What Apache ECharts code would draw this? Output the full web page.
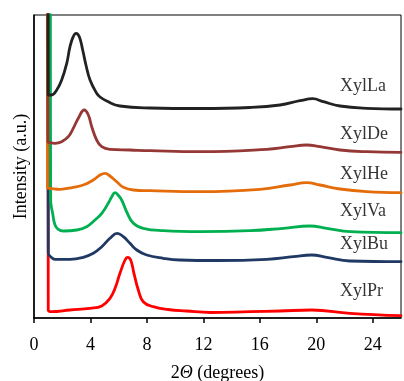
<!DOCTYPE html>
<html><head><meta charset="utf-8">
<script src="https://cdn.jsdelivr.net/npm/echarts@6/dist/echarts.min.js"></script>
<style>html,body{margin:0;padding:0;background:#fff}#c{width:404px;height:381px}</style>
</head><body><div id="c"></div>
<script>
const seriesNames = ['XylPr','XylBu','XylVa','XylHe','XylDe','XylLa'];
const colors = ['#ff0000','#1f3864','#00b050','#e46c0a','#953735','#222222'];
const xTicks = [0,4,8,12,16,20,24];

const xPr = [0.99,1.01,1.25,2.55,3.97,4.80,5.38,5.74,6.09,6.45,6.64,6.85,7.08,7.39,7.74,8.45,9.5,10.8,12.5,15.30,17.43,19.67,22.39,26];
const yPr = [500,8,6.3,8,9.7,12,19.7,29.7,44.7,58,60.7,58,44.7,28,16.3,11.3,8.5,7,5.5,6.3,7,8,4.7,2.3];

const xBu = [0.99,1.01,1.18,1.49,2.55,3.49,4.20,4.80,5.38,5.90,6.33,6.80,7.28,7.98,9.16,10.34,13.0,16.49,18.37,19.67,20.74,22.39,26];
const yBu = [500,65,61.3,58.7,58.7,60.7,64.7,71.3,79.7,84.7,81.3,74.7,68,63,59.7,58,57.5,58.7,61.3,63,60.7,57,56.3];

const xVa = [1.15,1.18,1.32,1.49,1.72,2.08,3.03,3.73,4.32,4.80,5.26,5.50,5.74,5.95,6.21,6.57,7.04,7.74,9.16,11.76,15.30,17.66,19.55,20.74,22.41,26];
const yVa = [500,118,104.7,93,88.7,87,88,91.3,98,104.7,114.7,121,125.3,123,118,106,94.7,89.7,87.3,86.3,87.3,89.7,92,89.7,86.3,85.3];

const xHe = [0.94,0.96,1.13,1.84,2.78,3.49,4.20,4.68,5.03,5.38,5.86,6.33,7.04,8.22,11.76,16.01,18.14,19.32,20.26,21.68,23.57,26];
const yHe = [500,130,129.7,128.7,130.7,133,138,143,144.7,142,136.3,130.7,128,127.3,126.3,128.7,133,135.3,133,129,126.3,125.3];

const xDe = [0.96,0.99,1.13,1.49,1.96,2.43,2.78,3.14,3.56,3.85,4.09,4.44,4.80,5.38,6.80,8.22,11.76,16.49,18.13,19.32,20.26,21.68,23.57,26];
const yDe = [500,176.3,175.3,174.7,176.3,181.3,189.7,199.7,208,203,191.3,178,171.3,168.7,168,167.3,166.3,168.7,171.3,173,171.3,168,166.3,165.7];

const xLa = [0.99,1.01,1.25,1.61,1.96,2.32,2.55,2.78,2.98,3.21,3.45,3.68,3.97,4.44,4.68,5.15,6.09,8.22,11.76,15.30,17.43,18.85,19.75,20.50,21.68,23.57,26];
const yLa = [500,223,223,228,238,254.7,271.3,281.3,284.7,281.3,268,253,238,224.7,221,217,212,210,209.5,210.5,213,217.3,219.3,216.3,212,209.7,209];

const labelX = [21.68,21.68,21.68,21.68,21.68,21.68];
const labelY = [27,74,107,144,184,232];

const xs = [xPr,xBu,xVa,xHe,xDe,xLa];
const ys = [yPr,yBu,yVa,yHe,yDe,yLa];
const FONT = 'Liberation Serif';
const FS = 18;

const series = seriesNames.map((n,i)=>({
  name:n, type:'line', showSymbol:false, smooth:0.45, clip:true,
  lineStyle:{color:colors[i], width:2.8, join:'round', cap:'round'}, itemStyle:{color:colors[i]},
  data: xs[i].map((x,j)=>[x, ys[i][j]])
}));
series.push({
  type:'scatter', symbolSize:0, silent:true,
  data: seriesNames.map((n,i)=>({name:n, value:[labelX[i], labelY[i]]})),
  label:{show:true, position:'right', distance:0, formatter:p=>p.name,
    fontFamily:FONT, fontSize:FS, color:'#000'}
});

const chart = echarts.init(document.getElementById('c'), null, {renderer:'canvas'});
chart.setOption({
  animation:false,
  backgroundColor:'#fff',
  grid:{left:34, right:3, top:15, bottom:63, containLabel:false, outerBoundsMode:'none',
    show:true, borderColor:'#000', borderWidth:1, backgroundColor:'transparent'},
  xAxis:{type:'value', min:0, max:26, interval:4,
    axisLine:{lineStyle:{color:'#000', width:1.5}},
    axisTick:{show:true, length:5, lineStyle:{color:'#000', width:1.5}},
    axisLabel:{fontFamily:FONT, fontSize:FS, color:'#000', margin:18, showMaxLabel:false,
      formatter:v=> xTicks.indexOf(v)>=0 ? String(v) : ''},
    splitLine:{show:false},
    name:'{n|2}{it|Θ}{n| (degrees)}', nameLocation:'middle', nameGap:46,
    nameTextStyle:{rich:{n:{fontFamily:FONT, fontSize:FS, color:'#000'}, it:{fontFamily:FONT, fontSize:FS, fontStyle:'italic', color:'#000'}}}
  },
  yAxis:{type:'value', min:0, max:303,
    axisLine:{show:true, lineStyle:{color:'#000', width:1.5}},
    axisTick:{show:false}, axisLabel:{show:false}, splitLine:{show:false},
    name:'Intensity (a.u.)', nameLocation:'middle', nameGap:4,
    nameTextStyle:{fontFamily:FONT, fontSize:FS, color:'#000'}
  },
  series: series
});
</script></body></html>
